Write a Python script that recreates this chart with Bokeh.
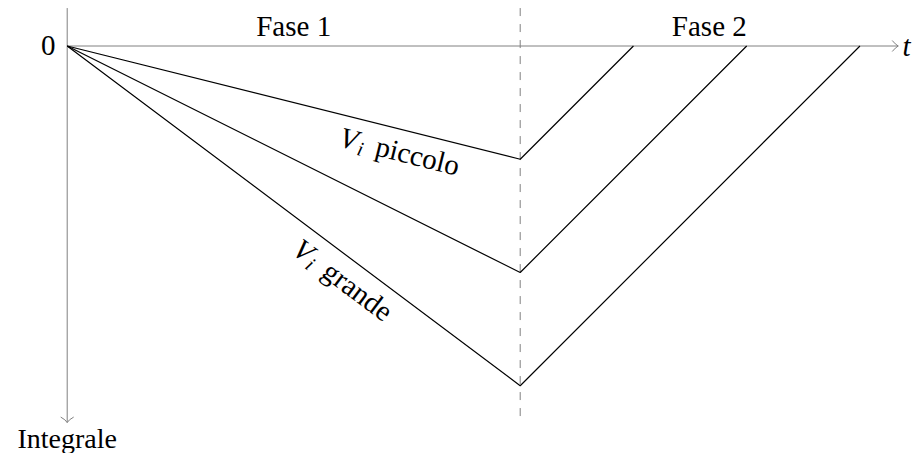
import math
from bokeh.plotting import figure
from bokeh.models import Range1d
from bokeh.core.properties import value
from bokeh.embed import file_html
from bokeh.resources import INLINE

# ---------------- data ----------------
t_switch = 4.0                              # end of "Fase 1"
integral_at_switch = [-1.0, -2.0, -3.0]     # integral reached at the end of Fase 1
t_zero = [5.0, 6.0, 7.0]                    # time at which the integral is back to 0
phase_names = ["Fase 1", "Fase 2"]
phase_centers = [2.0, 5.67]
curve_words = ["piccolo", "grande"]
curve_of_label = [0, 2]                     # curve each label belongs to
x_axis_name = "t"
y_axis_name = "Integrale"
zero_name = "0"

# axis extents (data units)
t_axis_end = 7.338
int_axis_top = 0.335
int_axis_end = -3.325
dash_bottom = -3.333

# ---------------- layout ----------------
W, H = 913, 453
PX = 113.25                   # pixels per data unit (both axes)
x0 = -66.7 / PX
y1 = 45.5 / PX
GRAY = "#808080"
FONT = value("Liberation Serif")
FSN = 29
FS = f"{FSN}px"
BFIX = 0.33                   # baseline correction (em) for the svg text placement


def fix(fs):
    return BFIX * fs / PX


p = figure(width=W, height=H, output_backend="svg", toolbar_location=None,
           x_range=Range1d(x0, x0 + W / PX), y_range=Range1d(y1 - H / PX, y1),
           x_axis_location=None, y_axis_location=None, min_border=0,
           background_fill_color="white", border_fill_color="white")
p.grid.visible = False
p.outline_line_color = None

# dashed phase separator
p.line([t_switch, t_switch], [int_axis_top, dash_bottom], line_color=GRAY,
       line_width=1, line_dash="8 8")

# axes
p.line([0, t_axis_end], [0, 0], line_color=GRAY, line_width=1)
p.line([0, 0], [int_axis_top, int_axis_end], line_color=GRAY, line_width=1)

# arrow heads (curved "to" style)
hl, hw = 6 / PX, 5.5 / PX
p.quadratic(x0=[t_axis_end - hl, t_axis_end - hl], y0=[hw, -hw],
            x1=[t_axis_end, t_axis_end], y1=[0, 0],
            cx=[t_axis_end - 2.8 / PX, t_axis_end - 2.8 / PX], cy=[1.5 / PX, -1.5 / PX],
            line_color=GRAY, line_width=1)
vl, vw = 5.5 / PX, 6.5 / PX
p.quadratic(x0=[vw, -vw], y0=[int_axis_end + vl, int_axis_end + vl],
            x1=[0, 0], y1=[int_axis_end, int_axis_end],
            cx=[1.5 / PX, -1.5 / PX], cy=[int_axis_end + 2.8 / PX, int_axis_end + 2.8 / PX],
            line_color=GRAY, line_width=1)

# integral curves
p.multi_line(xs=[[0, t_switch, tz] for tz in t_zero],
             ys=[[0, v, 0] for v in integral_at_switch],
             line_color="black", line_width=1.2)

# texts
p.text(x=[-11.7 / PX], y=[-9.5 / PX + fix(FSN)], text=[zero_name], text_font=FONT,
       text_font_size=FS, text_align="right", text_baseline="alphabetic", text_color="black")
p.text(x=phase_centers, y=[10.5 / PX + fix(FSN)] * 2, text=phase_names, text_font=FONT,
       text_font_size=FS, text_align="center", text_baseline="alphabetic", text_color="black")
p.text(x=[t_axis_end + 4.3 / PX], y=[-9.5 / PX + fix(FSN)], text=[x_axis_name], text_font=FONT,
       text_font_size=FS, text_font_style="italic", text_align="left",
       text_baseline="alphabetic", text_color="black")
p.text(x=[0], y=[-401.5 / PX + fix(28)], text=[y_axis_name], text_font=FONT,
       text_font_size="28px", text_align="center", text_baseline="alphabetic",
       text_color="black")

# sloped labels  "V_i piccolo", "V_i grande"
along_px = [287, 303]
gap_px = 31
for k, ci in enumerate(curve_of_label):
    dx, dy = t_switch, integral_at_switch[ci]
    L = math.hypot(dx, dy)
    ux, uy = dx / L, dy / L
    nx, ny = uy, -ux
    ang = math.atan2(dy, dx)
    ox = along_px[k] / PX * ux + gap_px / PX * nx
    oy = along_px[k] / PX * uy + gap_px / PX * ny

    def at(a, b, fs):
        b = b - BFIX * fs
        return ox + a / PX * ux + b / PX * nx, oy + a / PX * uy + b / PX * ny

    vx, vy = at(0, 0, FSN)
    ix, iy = at(19.5, 4, 20)
    wx, wy = at(37, 0, FSN)
    p.text(x=[vx], y=[vy], text=["V"], angle=ang, text_font=FONT, text_font_size=FS,
           text_font_style="italic", text_align="left", text_baseline="alphabetic",
           text_color="black")
    p.text(x=[ix], y=[iy], text=["i"], angle=ang, text_font=FONT, text_font_size="20px",
           text_font_style="italic", text_align="left", text_baseline="alphabetic",
           text_color="black")
    p.text(x=[wx], y=[wy], text=[curve_words[k]], angle=ang, text_font=FONT,
           text_font_size=FS, text_align="left", text_baseline="alphabetic",
           text_color="black")

open("out.html", "w").write(file_html(p, INLINE))
